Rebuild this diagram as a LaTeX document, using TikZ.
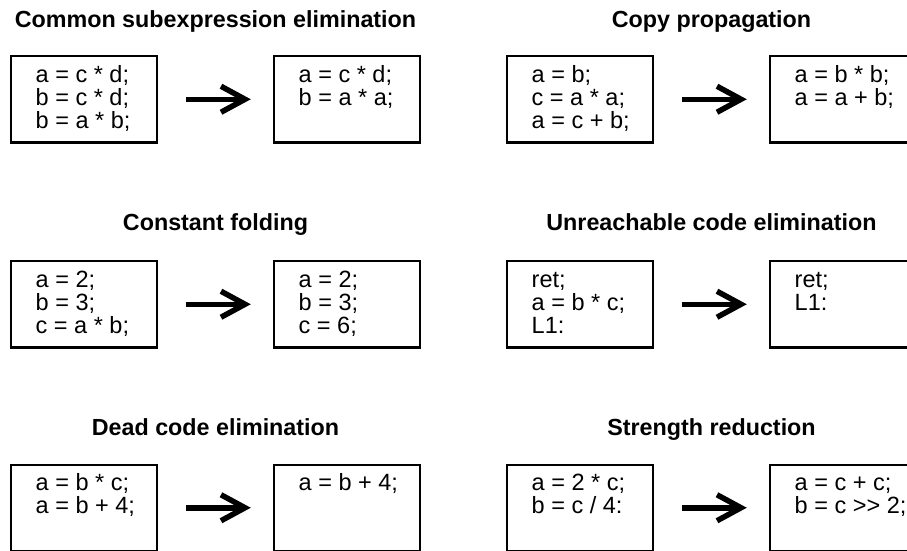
\documentclass[tikz,border=0pt]{standalone}
\usepackage{fontspec}
\setmainfont{Liberation Sans}
\newfontfamily\headfont{Liberation Sans}
\newfontfamily\codefont{Liberation Sans}

\tikzset{
  optbox/.style={draw, line width=2.2pt, minimum width=145.8pt, minimum height=86.3pt,
    inner sep=0pt, anchor=north west},
  codetext/.style={anchor=base west, inner sep=0pt,
    font=\codefont\fontsize{23.5}{23}\selectfont},
  heading/.style={anchor=base, inner sep=0pt,
    font=\headfont\bfseries\fontsize{23.3}{26}\selectfont},
  shaft/.style={line width=5.5pt},
  barb/.style={line width=5.5pt, miter limit=10}
}

% One transformation: title, code before, arrow, code after.
% #1 id, #2 left x, #3 box top y, #4 title baseline y, #5 title, #6 before, #7 after
\newcommand\optpanel[7]{%
  \node[heading] (t#1) at (#2+205.5,#4) {#5};
  \node[optbox] (b#1) at (#2,#3) {};
  \node[optbox] (a#1) at (#2+263,#3) {};
  \node[codetext] (cb#1) at ([shift={(25.5,27)}]b#1.north west)
    {\parbox[t]{125pt}{#6}};
  \node[codetext] (ca#1) at ([shift={(25.5,27)}]a#1.north west)
    {\parbox[t]{125pt}{#7}};
  \path (b#1.east) ++(28,0) coordinate (s#1);
  \path (a#1.west) ++(-28,0) coordinate (v#1);
  \draw[shaft] (s#1) -- (v#1);
  \draw[barb] ([shift={(-24,-13)}]v#1) -- (v#1) -- ([shift={(-24,13)}]v#1);
}

\begin{document}
\begin{tikzpicture}[x=1pt,y=-1pt]
  \useasboundingbox (0,0) rectangle (907,550);
  \clip (0,0) rectangle (907,550);

  \optpanel{cse}{10}{55}{27}{Common subexpression elimination}
    {a = c * d;\\b = c * d;\\b = a * b;}
    {a = c * d;\\b = a * a;}
  \optpanel{cp}{506}{55}{27}{Copy propagation}
    {a = b;\\c = a * a;\\a = c + b;}
    {a = b * b;\\a = a + b;}
  \optpanel{cf}{10}{260}{230}{Constant folding}
    {a = 2;\\b = 3;\\c = a * b;}
    {a = 2;\\b = 3;\\c = 6;}
  \optpanel{uce}{506}{260}{230}{Unreachable code elimination}
    {ret;\\a = b * c;\\L1:}
    {ret;\\L1:}
  \optpanel{dce}{10}{463.5}{435}{Dead code elimination}
    {a = b * c;\\a = b + 4;}
    {a = b + 4;}
  \optpanel{sr}{506}{463.5}{435}{Strength reduction}
    {a = 2 * c;\\b = c / 4:}
    {a = c + c;\\b = c >\kern0pt> 2;}
\end{tikzpicture}
\end{document}
